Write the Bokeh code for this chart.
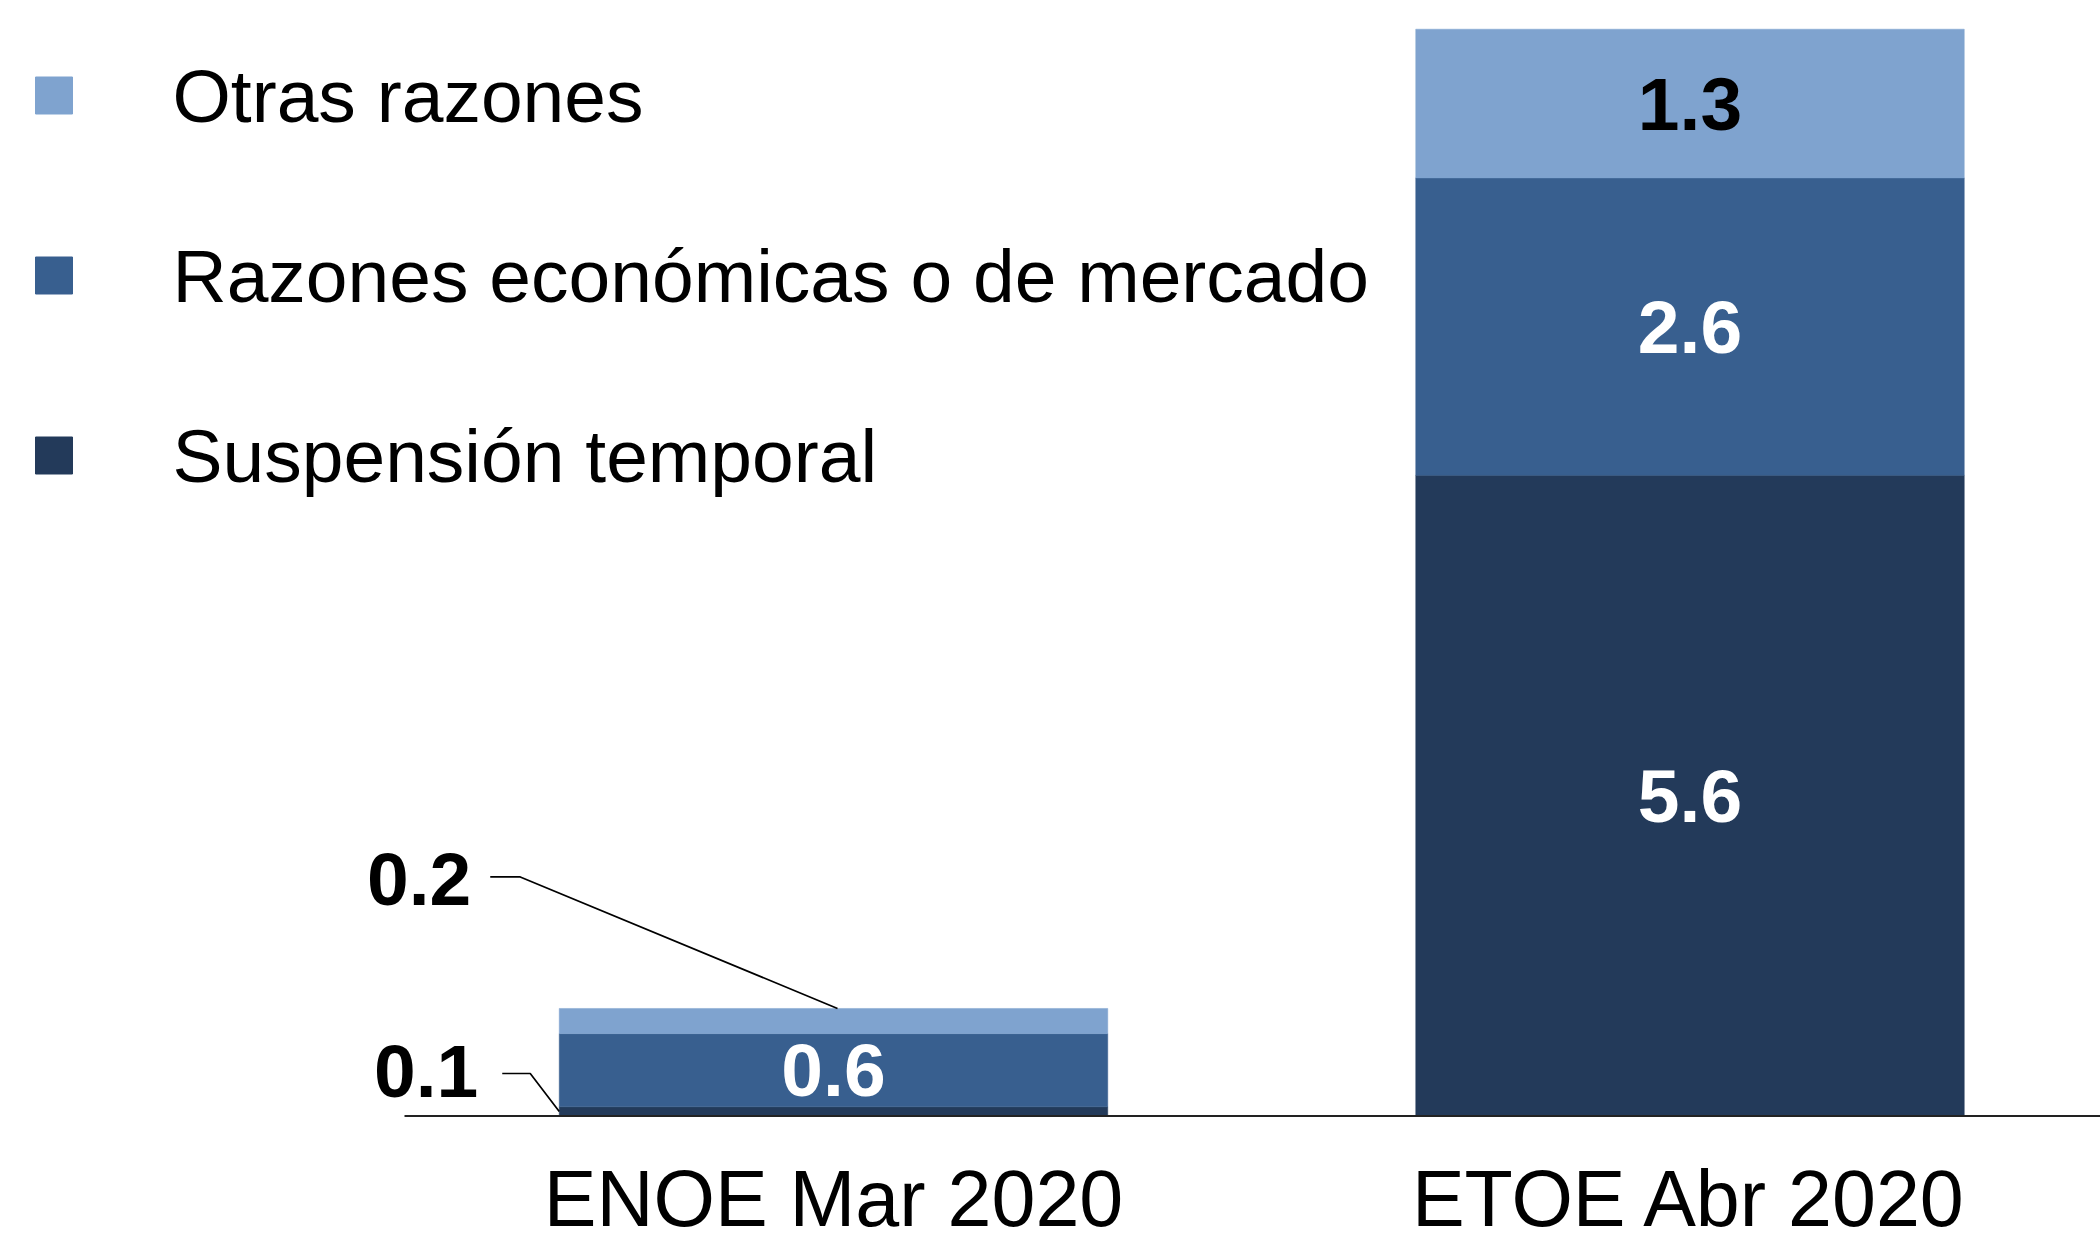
from bokeh.plotting import figure
from bokeh.models import ColumnDataSource, Range1d
from bokeh.core.properties import value
from bokeh.embed import file_html
from bokeh.resources import INLINE

# ---------------- data ----------------
categories = ["ENOE Mar 2020", "ETOE Abr 2020"]
series = ["Suspensión temporal", "Razones económicas o de mercado", "Otras razones"]
suspension = [0.08, 5.6]
economicas = [0.64, 2.6]
otras = [0.22, 1.3]
colors = ["#233A5A", "#385F8F", "#7FA3CF"]

# ---------------- layout ----------------
W, H = 2100, 1244
MARGIN = 0
PXU_X = 856.5          # pixels per category unit
PXU_Y = 114.4          # pixels per value unit
X_ZERO = 833           # screen px of first category centre
Y_ZERO = 1115.5        # screen px of value 0
BAR_W = 0.6404

x_start = -(X_ZERO - MARGIN) / PXU_X
x_end = x_start + W / PXU_X
y_end = (Y_ZERO - MARGIN) / PXU_Y
y_start = y_end - H / PXU_Y


def dx(px):
    return x_start + (px - MARGIN) / PXU_X


def dy(py):
    return y_end - (py - MARGIN) / PXU_Y


def ox(px):  # horizontal pixel offset -> data units
    return px / PXU_X


def oy(px):  # vertical pixel offset -> data units
    return px / PXU_Y


FONT = value("Liberation Sans")

p = figure(width=W, height=H, x_range=Range1d(x_start, x_end), y_range=Range1d(y_start, y_end),
           output_backend="svg", toolbar_location=None, x_axis_type=None, y_axis_type=None,
           min_border=0, outline_line_color=None)
p.grid.visible = False
p.background_fill_color = "white"
p.border_fill_color = "white"

xs = list(range(len(categories)))
src = ColumnDataSource(dict(x=xs, s0=suspension, s1=economicas, s2=otras))
p.vbar_stack(["s0", "s1", "s2"], x="x", width=BAR_W, color=colors, line_color=colors,
             line_width=0.5, source=src)

# baseline
p.segment(x0=[dx(404)], y0=[0], x1=[x_end], y1=[0], line_color="#222222", line_width=2)

# category labels
p.text(x=xs, y=[dy(1198)] * len(xs), text=categories, text_font=FONT, text_font_size="79px",
       text_align="center", text_baseline="middle", text_color="black")

# value labels
stacks = list(zip(suspension, economicas, otras))
in_x, in_y, in_t, in_c = [], [], [], []
for i, vals in enumerate(stacks):
    bottom = 0.0
    for j, v in enumerate(vals):
        mid = bottom + v / 2
        bottom += v
        if v >= 0.5:
            in_x.append(xs[i])
            in_y.append(mid)
            in_t.append(f"{v:.1f}")
            in_c.append("black" if j == 2 else "white")
p.text(x=in_x, y=in_y, text=in_t, text_color=in_c, text_font=FONT, text_font_size="75px",
       text_font_style="bold", text_align="center", text_baseline="middle")

# outside labels with leader lines for the small first bar
i = 0
left = xs[i] - BAR_W / 2
top = suspension[i] + economicas[i] + otras[i]
# top segment (Otras razones)
ly = top + oy(131.5)
p.line(x=[left - ox(69), left - ox(39), xs[i] + ox(4)], y=[ly, ly, top],
       line_color="black", line_width=1.7)
p.text(x=[left - ox(88)], y=[ly - oy(2)], text=[f"{otras[i]:.1f}"], text_font=FONT,
       text_font_size="75px", text_font_style="bold", text_align="right", text_baseline="middle",
       text_color="black")
# bottom segment (Suspensión temporal)
seg_mid = suspension[i] / 2
p.line(x=[left - ox(57), left - ox(29), left], y=[oy(42.5), oy(42.5), seg_mid],
       line_color="black", line_width=1.7)
p.text(x=[left - ox(81)], y=[oy(45.5)], text=[f"{suspension[i]:.1f}"], text_font=FONT,
       text_font_size="75px", text_font_style="bold", text_align="right", text_baseline="middle",
       text_color="black")

# legend (top to bottom: reversed stack order)
leg_y = [dy(95), dy(275), dy(455)]
leg_names = series[::-1]
leg_cols = colors[::-1]
p.scatter(x=[dx(53.5)] * 3, y=leg_y, marker="square", size=37, fill_color=leg_cols, line_color=leg_cols)
p.text(x=[dx(172)] * 3, y=leg_y, text=leg_names, text_font=FONT, text_font_size="75px",
       text_align="left", text_baseline="middle", text_color="black")

open("out.html", "w").write(file_html(p, INLINE))
